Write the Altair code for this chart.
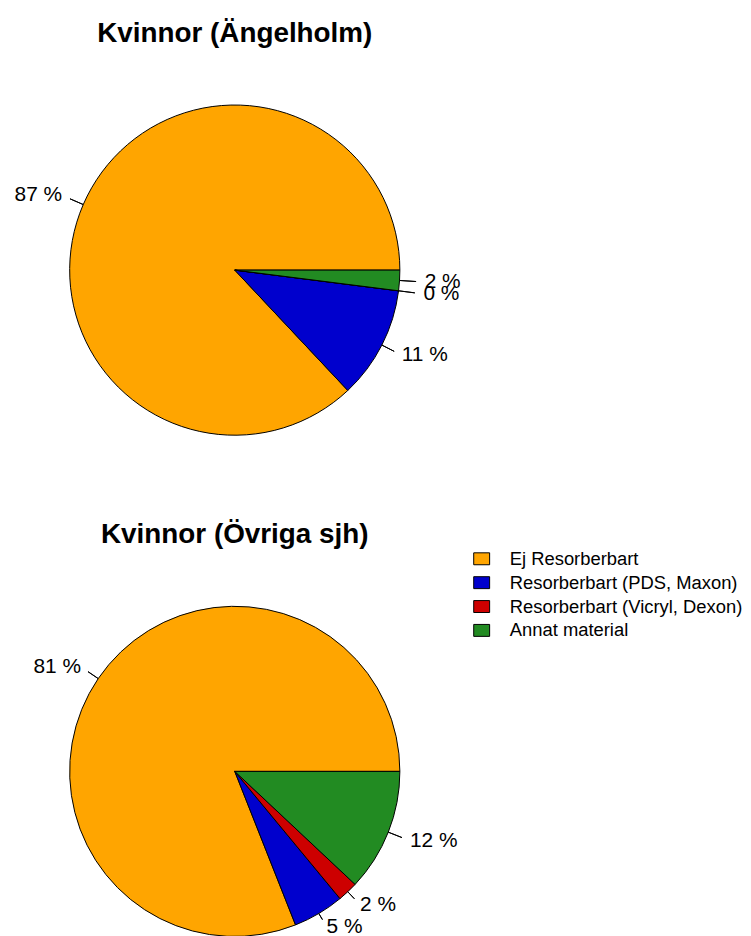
import math
import altair as alt
import pandas as pd

categories = ["Ej Resorberbart", "Resorberbart (PDS, Maxon)",
              "Resorberbart (Vicryl, Dexon)", "Annat material"]
colors = ["#FFA500", "#0000CD", "#CD0000", "#228B22"]
top_title = "Kvinnor (Ängelholm)"
bottom_title = "Kvinnor (Övriga sjh)"
top_values = [87, 11, 0, 2]
bottom_values = [81, 5, 2, 12]

R = 166          # pie radius (px)
A, B = 174, 162  # horizontal / vertical label-ellipse radii (px)
W = 456
H = 338
FONT = "Liberation Sans"


def pie(values, title, show_legend, title_offset):
    df = pd.DataFrame({"category": categories, "value": values,
                       "order": list(range(len(values)))})
    base = alt.Chart(df).transform_window(
        cum="sum(value)", sort=[alt.SortField("order", order="ascending")]
    ).transform_calculate(
        start="datum.cum - datum.value",
        mid="datum.cum - datum.value / 2",
        label="datum.value + ' %'",
    ).transform_calculate(
        phi="2 * PI * datum.mid / 100",
    ).transform_calculate(
        right="cos(datum.phi) >= 0",
        re=f"{A} * {B} / sqrt(pow({B} * cos(datum.phi), 2) + pow({A} * sin(datum.phi), 2))",
    ).transform_calculate(
        lr="1.1 * datum.re",
        tin=f"{R}",
        tout=f"max(1.05 * datum.re, {R} + 5)",
    )
    theta_scale = alt.Scale(domain=[0, 100], range=[2.5 * math.pi, 0.5 * math.pi])
    radius_scale = alt.Scale(type="linear", domain=[0, 400], range=[0, 400], zero=True)
    if show_legend:
        legend = alt.Legend(
            title=None, orient="none", legendX=467, legendY=-54,
            symbolType="M-1,-0.75H1V0.75H-1Z", symbolSize=256,
            symbolStrokeColor="black", symbolStrokeWidth=1, symbolOpacity=1,
            labelFontSize=18.5, labelFont=FONT, labelColor="black",
            labelOffset=19, labelLimit=400, rowPadding=5, padding=0,
        )
    else:
        legend = None
    arcs = base.mark_arc(radius=R, stroke="black", strokeWidth=1).encode(
        theta=alt.Theta("start:Q", scale=theta_scale, stack=False),
        theta2="cum:Q",
        color=alt.Color("category:N",
                        scale=alt.Scale(domain=categories, range=colors),
                        legend=legend),
    )
    ticks = base.mark_arc(stroke="black", strokeWidth=1, fillOpacity=0).encode(
        theta=alt.Theta("mid:Q", scale=theta_scale, stack=False),
        theta2="mid:Q",
        radius=alt.Radius("tin:Q", scale=radius_scale),
        radius2="tout:Q",
    )
    text_r = base.transform_filter("datum.right").mark_text(
        align="left", baseline="middle", fontSize=21, font=FONT, color="black"
    ).encode(theta=alt.Theta("mid:Q", scale=theta_scale, stack=False),
             radius=alt.Radius("lr:Q", scale=radius_scale),
             text="label:N")
    text_l = base.transform_filter("!datum.right").mark_text(
        align="right", baseline="middle", fontSize=21, font=FONT, color="black"
    ).encode(theta=alt.Theta("mid:Q", scale=theta_scale, stack=False),
             radius=alt.Radius("lr:Q", scale=radius_scale),
             text="label:N")
    return alt.layer(arcs, ticks, text_r, text_l).properties(
        width=W, height=H,
        title=alt.TitleParams(text=title, fontSize=28, fontWeight="bold",
                              anchor="middle", frame="group",
                              offset=title_offset, font=FONT, color="black"),
    )


chart = alt.vconcat(
    pie(top_values, top_title, False, 54),
    pie(bottom_values, bottom_title, True, 1),
    spacing=83,
).resolve_scale(color="independent").properties(
    padding={"top": 10, "left": 0, "right": 0, "bottom": 0}
).configure(font=FONT).configure_view(strokeWidth=0)

chart.save("out.html", embed_options={"renderer": "svg", "actions": False})
